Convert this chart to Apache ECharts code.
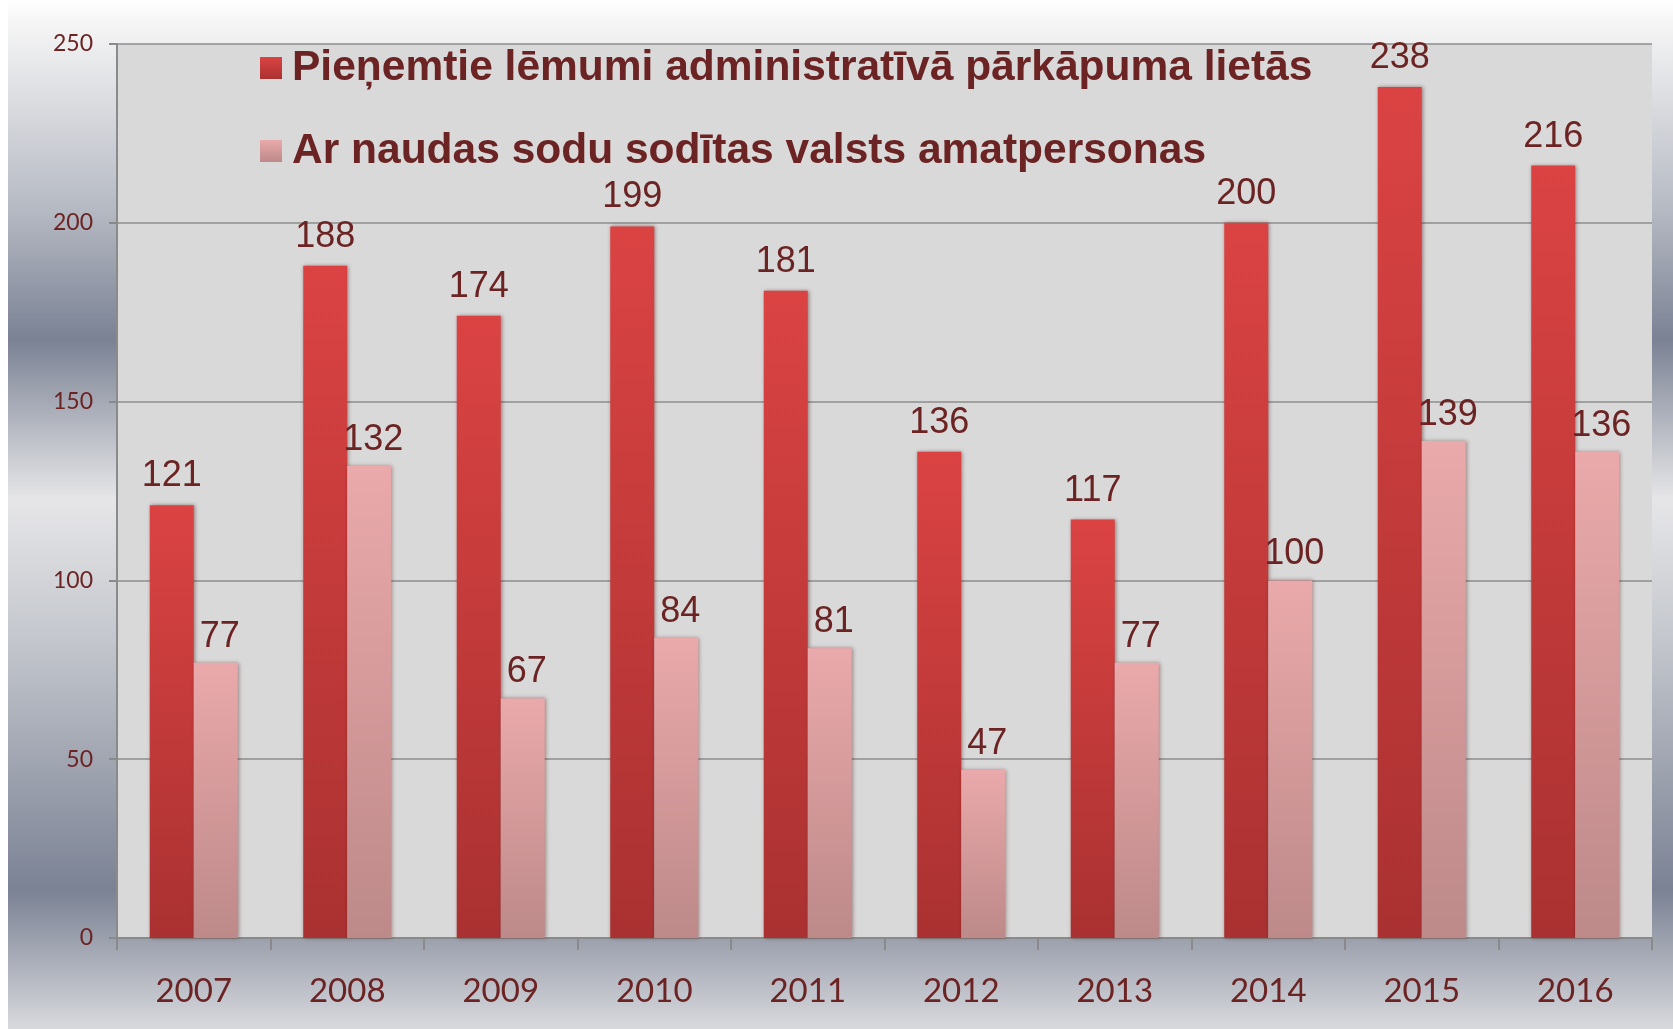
<!DOCTYPE html>
<html>
<head>
<meta charset="utf-8">
<script src="https://cdn.jsdelivr.net/npm/echarts@6/dist/echarts.min.js"></script>
<style>
html,body{margin:0;padding:0;background:#ffffff;width:1673px;height:1029px;overflow:hidden;}
#chart{position:absolute;left:8px;top:0;width:1665px;height:1029px;}
</style>
</head>
<body>
<div id="chart"></div>
<script>
const categories = ['2007','2008','2009','2010','2011','2012','2013','2014','2015','2016'];
const seriesNames = ['Pieņemtie lēmumi administratīvā pārkāpuma lietās', 'Ar naudas sodu sodītas valsts amatpersonas'];
const decisions = [121, 188, 174, 199, 181, 136, 117, 200, 238, 216];
const fined = [77, 132, 67, 84, 81, 47, 77, 100, 139, 136];
const yTicks = { min: 0, max: 250, interval: 50 };

const textColor = '#6b2323';
const chart = echarts.init(document.getElementById('chart'));

function vgrad(top, bottom) {
  return new echarts.graphic.LinearGradient(0, 0, 0, 1, [
    { offset: 0, color: top }, { offset: 1, color: bottom }
  ]);
}

const option = {
  backgroundColor: new echarts.graphic.LinearGradient(0, 0, 0, 1, [
    { offset: 0, color: '#ffffff' },
    { offset: 0.02, color: '#f6f6f6' },
    { offset: 0.2, color: '#b7bbc4' },
    { offset: 0.33, color: '#7b8294' },
    { offset: 0.485, color: '#e6e6e8' },
    { offset: 0.62, color: '#c4c7cd' },
    { offset: 0.865, color: '#7b8294' },
    { offset: 1, color: '#d8d9dd' }
  ]),
  animation: false,
  grid: {
    left: 109, right: 21, top: 44, bottom: 91,
    show: true, backgroundColor: '#d9d9d9', borderWidth: 0
  },
  legend: {
    orient: 'vertical',
    left: 247, top: 41,
    itemWidth: 22, itemHeight: 22, itemGap: 39,
    icon: 'rect',
    textStyle: {
      color: textColor, fontFamily: 'Liberation Sans, Arial, sans-serif',
      fontWeight: 'bold', fontSize: 42.5, lineHeight: 44, padding: [0, 0, 0, 5]
    },
    data: seriesNames
  },
  xAxis: {
    type: 'category',
    data: categories,
    axisLine: { show: true, lineStyle: { color: '#8a8a8a', width: 2 } },
    axisTick: { show: true, length: 12, alignWithLabel: false, lineStyle: { color: '#8a8a8a', width: 2 } },
    axisLabel: { color: textColor, fontFamily: 'Lato, sans-serif', fontSize: 33, margin: 37 },
    splitLine: { show: false }
  },
  yAxis: {
    type: 'value',
    min: yTicks.min, max: yTicks.max, interval: yTicks.interval,
    axisLine: { show: true, lineStyle: { color: '#8a8a8a', width: 2 } },
    axisTick: { show: true, length: 8, lineStyle: { color: '#8a8a8a', width: 2 } },
    axisLabel: { color: textColor, fontFamily: 'Lato, sans-serif', fontSize: 23, margin: 24 },
    splitLine: { show: true, lineStyle: { color: '#8c8c8c', width: 1.5 } }
  },
  series: [
    {
      name: seriesNames[0],
      type: 'bar',
      data: decisions,
      barWidth: 44,
      barGap: '0%',
      itemStyle: {
        color: vgrad('#db4343', '#aa3131'),
        shadowBlur: 4, shadowColor: 'rgba(60,0,0,0.45)', shadowOffsetX: 1, shadowOffsetY: 0
      },
      label: {
        show: true, position: 'top', distance: 11,
        color: textColor, fontFamily: 'Liberation Sans, Arial, sans-serif', fontSize: 36
      }
    },
    {
      name: seriesNames[1],
      type: 'bar',
      data: fined,
      barWidth: 44,
      itemStyle: {
        color: vgrad('#eaa9aa', '#bd8989'),
        shadowBlur: 4, shadowColor: 'rgba(60,0,0,0.4)', shadowOffsetX: 1, shadowOffsetY: 0
      },
      label: {
        show: true, position: 'top', distance: 8, offset: [4, 0],
        color: textColor, fontFamily: 'Liberation Sans, Arial, sans-serif', fontSize: 36
      }
    }
  ]
};
chart.setOption(option);
</script>
</body>
</html>
